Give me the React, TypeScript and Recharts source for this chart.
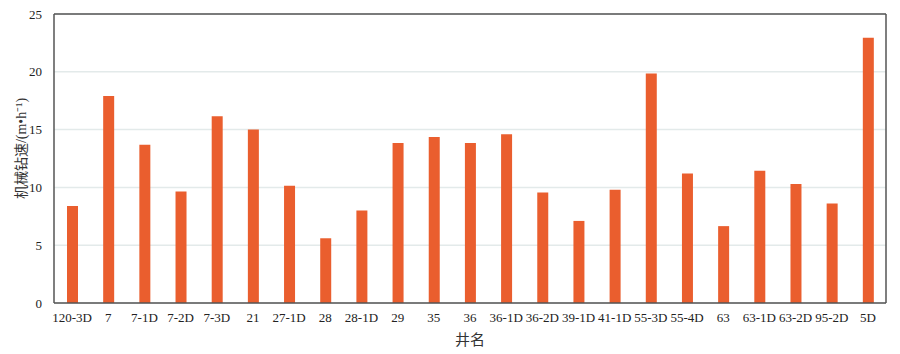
import { Bar, BarChart, CartesianGrid, XAxis, YAxis } from 'recharts'

const wells = [
  '120-3D', '7', '7-1D', '7-2D', '7-3D', '21', '27-1D', '28', '28-1D', '29', '35', '36',
  '36-1D', '36-2D', '39-1D', '41-1D', '55-3D', '55-4D', '63', '63-1D', '63-2D', '95-2D', '5D',
]
const rop = [
  8.4, 17.9, 13.7, 9.65, 16.15, 15.0, 10.15, 5.6, 8.0, 13.85, 14.35, 13.85,
  14.6, 9.55, 7.1, 9.8, 19.85, 11.2, 6.65, 11.45, 10.3, 8.6, 22.95,
]
const yTicks = [0, 5, 10, 15, 20, 25]

const data = wells.map((name, i) => ({ name, rop: rop[i] }))

const font = '"Liberation Serif", "Noto Sans CJK SC", serif'
const tickStyle = { fontSize: 13, fill: '#222', fontFamily: font }

// rotated y title, sits a bit above the plot middle like the original
function YTitle({ viewBox }: any) {
  const cx = 21
  const cy = viewBox.y + viewBox.height / 2 - 10
  return (
    <text
      x={cx}
      y={cy}
      transform={`rotate(-90 ${cx} ${cy})`}
      textAnchor="middle"
      dominantBaseline="central"
      fontSize={14}
      fill="#333"
      fontFamily={font}
    >
      机械钻速/(m•h⁻¹)
    </text>
  )
}

export default function App() {
  return (
    <div style={{ position: 'absolute', left: 0, top: 0, width: 900, height: 354, background: '#fff' }}>
      <BarChart width={900} height={354} data={data} margin={{ top: 13, right: 13, bottom: 0, left: 0 }}>
        <CartesianGrid vertical={false} stroke="#e3eaea" strokeWidth={1.5} />
        <XAxis
          dataKey="name"
          interval={0}
          height={51}
          tickLine={false}
          tickMargin={4}
          stroke="#555"
          strokeWidth={1.5}
          tick={tickStyle}
          label={{ value: '井名', position: 'insideBottom', offset: 9, style: { fontSize: 15, fill: '#333', fontFamily: font } }}
        />
        <XAxis xAxisId="top" dataKey="name" orientation="top" height={1} tick={false} tickLine={false} stroke="#555" strokeWidth={1.5} />
        <YAxis
          domain={[0, 25]}
          ticks={yTicks}
          width={54}
          tickLine={false}
          tickMargin={6}
          stroke="#555"
          strokeWidth={1.5}
          tick={tickStyle}
          label={{ content: YTitle }}
        />
        <YAxis yAxisId="right" orientation="right" domain={[0, 25]} width={1} tick={false} tickLine={false} stroke="#555" strokeWidth={1.5} />
        <Bar dataKey="rop" fill="#ea5e2e" barSize={11} isAnimationActive={false} />
      </BarChart>
    </div>
  )
}
